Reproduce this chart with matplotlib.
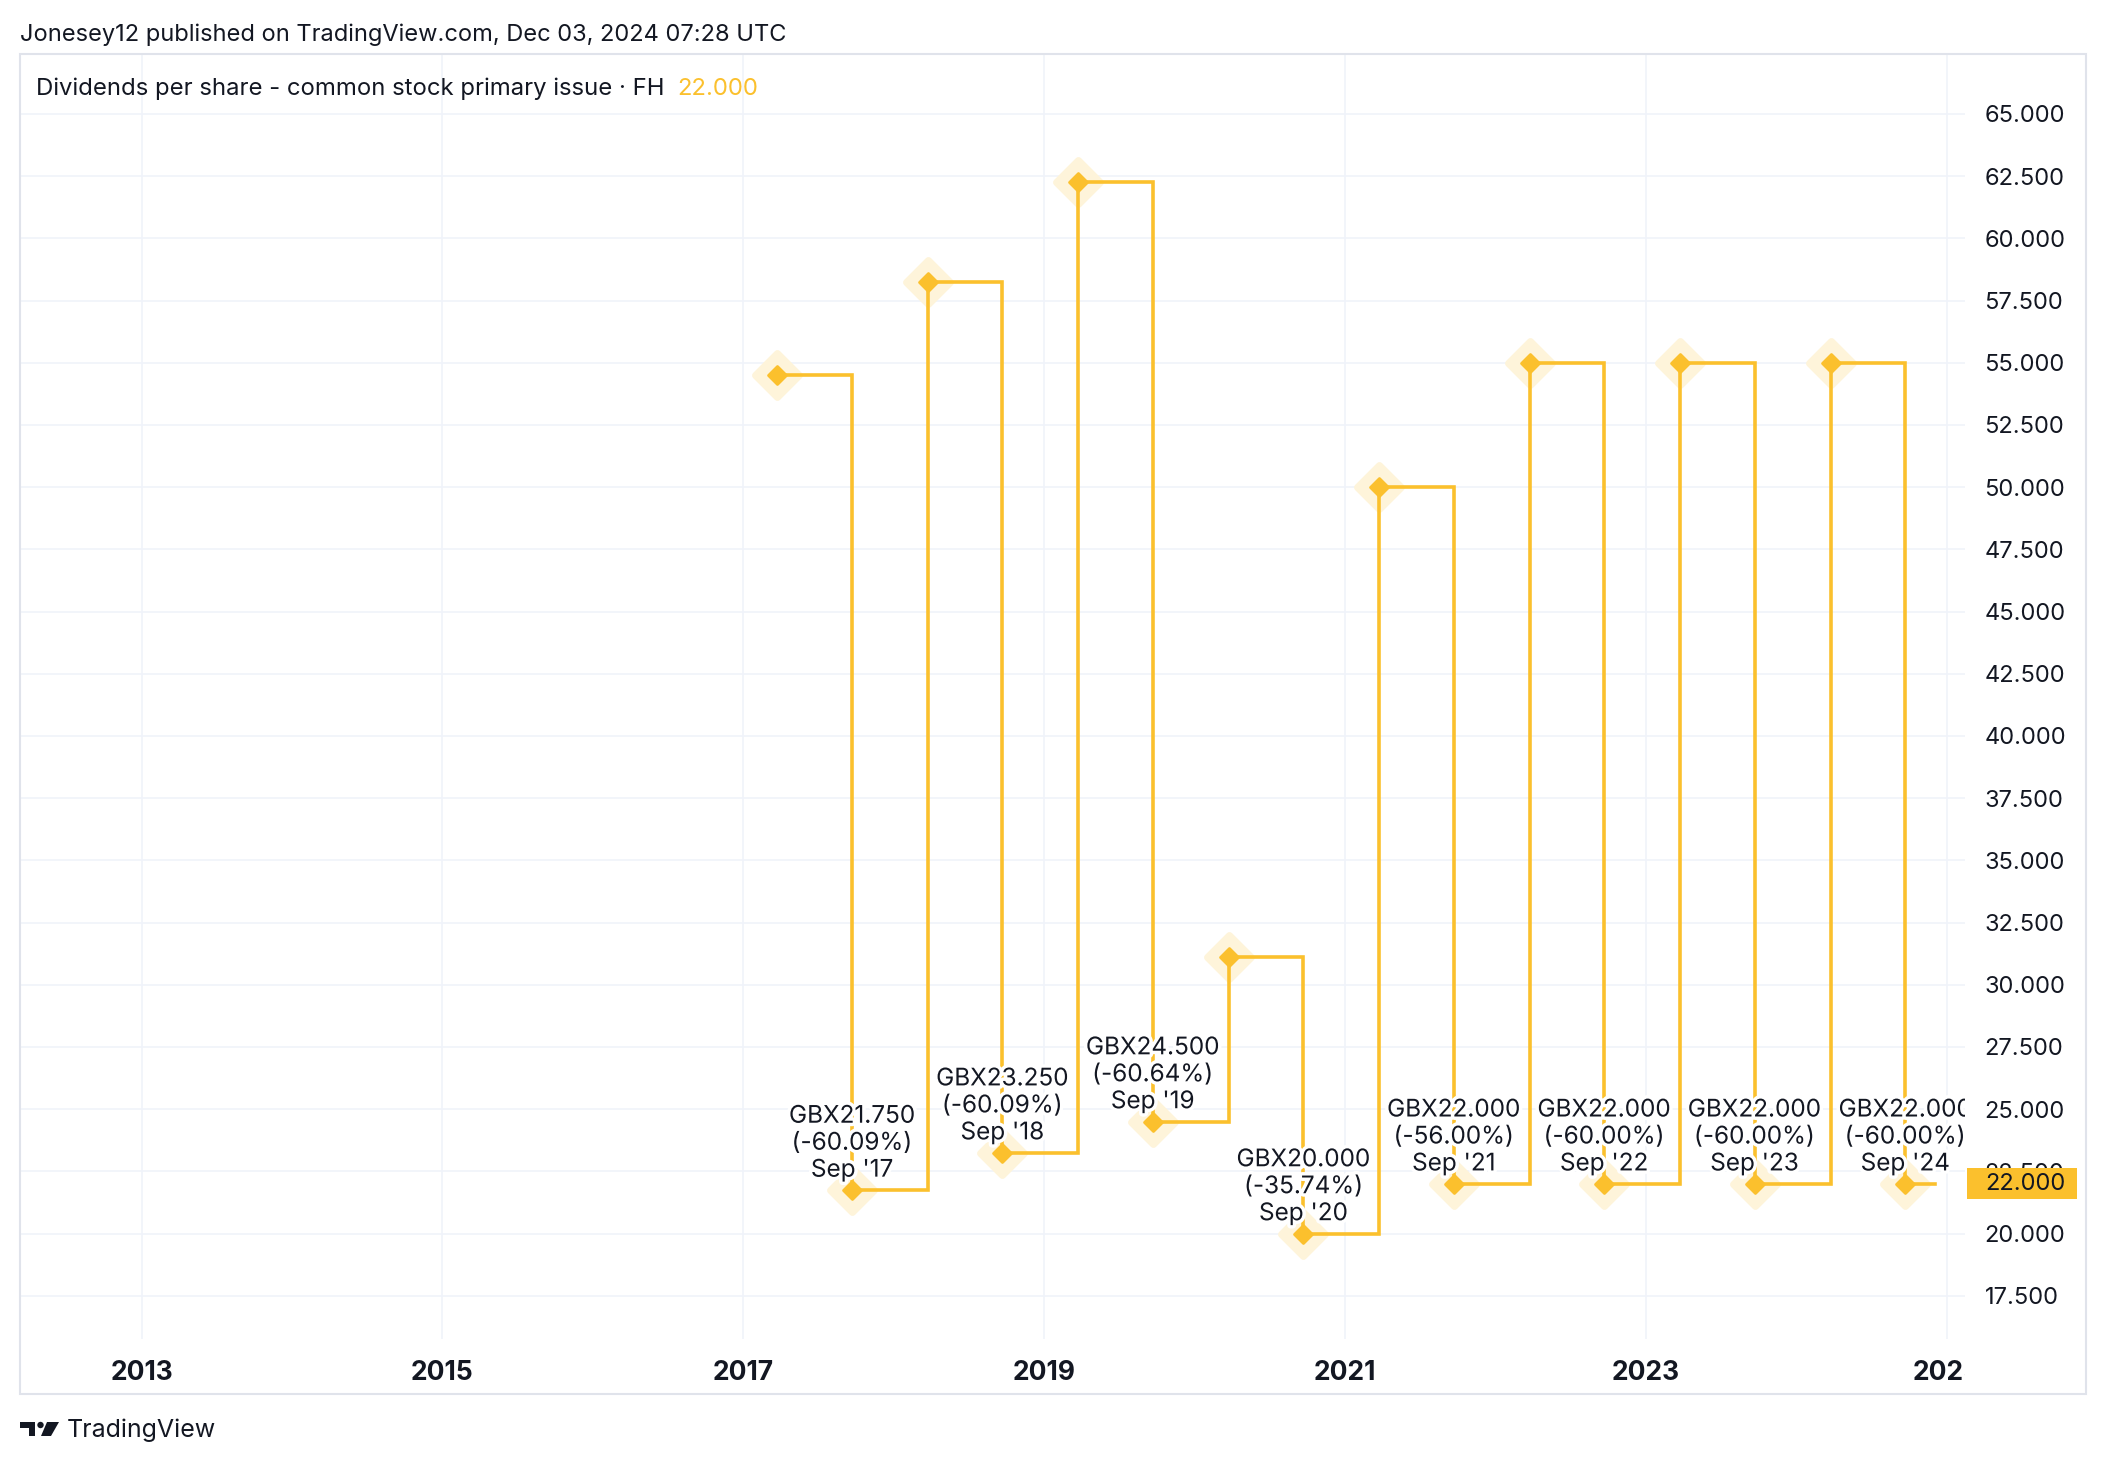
import matplotlib
matplotlib.use('Agg')
import matplotlib.pyplot as plt
import matplotlib.patheffects as pe
from matplotlib.markers import MarkerStyle
from matplotlib.patches import Rectangle, Circle, Polygon
from matplotlib.transforms import Affine2D, Bbox, TransformedBbox, blended_transform_factory
import matplotlib.ticker as mticker
import pandas as pd

W, H = 2106, 1466

# dividends per share (GBX), half-year points
period_end = ['2017-03-25', '2017-09-22', '2018-03-25', '2018-09-22',
              '2019-03-25', '2019-09-22', '2020-03-25', '2020-09-22',
              '2021-03-25', '2021-09-22', '2022-03-25', '2022-09-22',
              '2023-03-25', '2023-09-22', '2024-03-25', '2024-09-22']
dps = [54.5, 21.75, 58.25, 23.25, 62.25, 24.5, 31.125, 20.0,
       50.0, 22.0, 55.0, 22.0, 55.0, 22.0, 55.0, 22.0]
publish_date = '2024-12-03'
currency = 'GBX'
last_value = 22.0

y_ticks = [17.5, 20.0, 22.5, 25.0, 27.5, 30.0, 32.5, 35.0, 37.5, 40.0, 42.5,
           45.0, 47.5, 50.0, 52.5, 55.0, 57.5, 60.0, 62.5, 65.0]
year_ticks = [2013, 2015, 2017, 2019, 2021, 2023, 2025]

title = 'Jonesey12 published on TradingView.com, Dec 03, 2024 07:28 UTC'
legend_name = 'Dividends per share - common stock primary issue \u00b7 FH'

YELLOW = '#FBC02D'
HALO = '#FEF4DA'
TEXT = '#131722'
GRID = '#F0F3FA'
BORDER = '#E0E3EB'

plt.rcParams['font.family'] = ['Inter', 'DejaVu Sans']

fig = plt.figure(figsize=(W / 100, H / 100), dpi=100)


def fx(px):
    return px / W


def fy(py):
    return 1 - py / H


# plot area in pixel coords of the screenshot
ax = fig.add_axes([fx(20), fy(1339), fx(1965) - fx(20), fy(54) - fy(1339)])

x = pd.to_datetime(period_end)
x_line = list(x) + [pd.Timestamp(publish_date)]
y_line = dps + [dps[-1]]

ax.plot(x_line, y_line, drawstyle='steps-post', color=YELLOW, lw=2.6,
        solid_joinstyle='miter', zorder=3)
ax.plot(x, dps, linestyle='none', marker=MarkerStyle('D', joinstyle='round'),
        ms=22, mfc=HALO, mec=HALO, mew=5, zorder=2)
ax.plot(x, dps, linestyle='none', marker=MarkerStyle('D', joinstyle='round'),
        ms=9, mfc=YELLOW, mec=YELLOW, mew=2, zorder=4)

# labels on the September (final) payments
for i in range(1, len(dps), 2):
    pct = (dps[i] / dps[i - 1] - 1) * 100
    txt = f"{currency}{dps[i]:.3f}\n({pct:.2f}%)\n{x[i]:%b '%y}"
    ax.annotate(txt, xy=(x[i], dps[i]), xytext=(0, 6), textcoords='offset points',
                ha='center', va='bottom', fontsize=17.5, color=TEXT,
                linespacing=1.22, zorder=6, clip_on=True,
                path_effects=[pe.withStroke(linewidth=5, foreground='white')])

ax.set_xlim(pd.Timestamp('2012-03-12'), pd.Timestamp('2025-02-14'))
ax.set_ylim(15.76, 67.41)

ax.set_xticks([pd.Timestamp(f'{yr}-01-01') for yr in year_ticks])
ax.set_xticklabels([str(yr) for yr in year_ticks])
ax.set_yticks(y_ticks)
ax.yaxis.set_major_formatter(mticker.FormatStrFormatter('%.3f'))
ax.yaxis.tick_right()
ax.tick_params(axis='y', length=0, pad=14, labelsize=17, labelcolor=TEXT)
ax.tick_params(axis='x', length=0, pad=15, labelsize=19, labelcolor=TEXT)
for lab in ax.get_xticklabels():
    lab.set_fontweight('bold')

ax.grid(True, color=GRID, lw=1.2)
ax.set_axisbelow(True)
for s in ax.spines.values():
    s.set_visible(False)

# clip the year labels at the price scale
clip = TransformedBbox(Bbox([[0, 0], [fx(1965), 1]]), fig.transFigure)
for t in ax.xaxis.get_major_ticks():
    t.label1.set_clip_on(True)
    t.label1.set_clip_box(clip)

# last value marker on the price scale
bt = blended_transform_factory(ax.transAxes, ax.transData)
ax.add_patch(Rectangle((1.001, last_value - 0.62), 110 / 1945, 1.24, transform=bt,
                       facecolor=YELLOW, edgecolor='none', clip_on=False, zorder=7))
ax.text(1 + 20 / 1945, last_value, f'{last_value:.3f}', transform=bt, ha='left',
        va='center', fontsize=17, color=TEXT, zorder=8, clip_on=False)

# pane border
fig.add_artist(Rectangle((fx(20), fy(1394)), fx(2086) - fx(20), fy(54) - fy(1394),
                         transform=fig.transFigure, fill=False, ec=BORDER, lw=1.5))

fig.text(fx(20), fy(35), title, fontsize=17, color=TEXT, ha='left', va='center')
leg = fig.text(fx(36), fy(89), legend_name, fontsize=17.2, color=TEXT,
               ha='left', va='center')
ax.annotate(f'{last_value:.3f}', xy=(1, 0), xycoords=leg, xytext=(9, 0),
            textcoords='offset points', ha='left', va='bottom', fontsize=17.2,
            color=YELLOW, annotation_clip=False)

# TradingView logo
px = Affine2D().scale(1, -1).translate(0, H)
for p in [Polygon([(20, 1422), (35, 1422), (35, 1436), (29, 1436), (29, 1428), (20, 1428)]),
          Circle((40.5, 1425), 3.2),
          Polygon([(47, 1422), (59, 1422), (51, 1436), (41, 1436)])]:
    p.set_facecolor(TEXT)
    p.set_edgecolor('none')
    p.set_transform(px)
    fig.add_artist(p)
fig.text(fx(67), fy(1430), 'TradingView', fontsize=18, color=TEXT, ha='left', va='center')

fig.savefig('out.png', dpi=100, facecolor='white')
